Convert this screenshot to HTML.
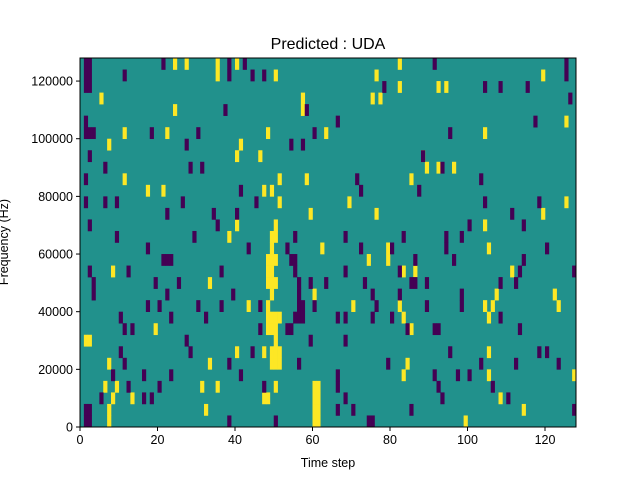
<!DOCTYPE html>
<html><head><meta charset="utf-8"><style>
body{margin:0;background:#fff;}
svg{display:block;font-family:"Liberation Sans","DejaVu Sans",sans-serif;}
</style></head><body>
<svg id="chart" width="640" height="480">
<text x="328" y="49" font-size="16" text-anchor="middle">Predicted : UDA</text>
<text x="328" y="467" font-size="12.5" text-anchor="middle">Time step</text>
<text transform="translate(8,242) rotate(-90)" font-size="12.5" text-anchor="middle">Frequency (Hz)</text>
<g id="cells"></g>
<g id="axes"></g>
</svg>
<script>
const nCols = 128;
const nRows = 32;
const rowHz = 4000;
const xTicks = [0,20,40,60,80,100,120];
const yTicks = [0,20000,40000,60000,80000,100000,120000];
// per frequency row (0 = lowest): time-step indices with value +1 (yellow) and -1 (purple)
const yellowCols = [
 [7,60,61,99],
 [7,32,60,61,114],
 [8,13,47,48,60,61,108],
 [6,9,31,35,50,60,61],
 [83,105,127],
 [7,33,49,50,51,84],
 [40,47,49,50,51,105],
 [1,2,50],
 [19,48,49,50,85],
 [48,49,50,51,83,105],
 [43,48,70,82,104,106,123],
 [49,60,107,122],
 [33,48,49,50],
 [8,48,49,86,83,111],
 [48,49,50,74,79],
 [49,62,79,105],
 [38,49,50],
 [40,50,104],
 [59,76,119],
 [51,69,125],
 [17,21,47,49],
 [11,51,58,85],
 [89,92,96],
 [40,46,88],
 [7,41],
 [11,22,48,63,104],
 [125],
 [24,57],
 [5,57,75,77],
 [82,92,94],
 [35,50,76,119],
 [24,27,35,40,82]
];
const purpleCols = [
 [1,2,38,50,74,75],
 [1,2,66,70,85,127],
 [5,16,18,68,93,110],
 [12,20,47,66,92,106],
 [8,16,23,41,66,91,97,100],
 [11,38,56,79,103,112,123],
 [10,28,44,95,118,120],
 [27,59,68],
 [11,13,46,53,54,84,91,92,113],
 [10,23,32,55,56,57,66,68,75,80,108],
 [17,20,30,36,46,56,57,60,76,89,98],
 [3,22,39,56,75,82,98],
 [3,19,25,56,59,63,73,85,86,89,108,112],
 [2,12,36,55,68,82,113,127],
 [21,22,23,54,55,86,96,114],
 [17,43,53,72,80,94,120],
 [9,29,55,68,83,94,98],
 [2,35,100,114],
 [22,34,40,111],
 [1,6,9,26,45,104,118],
 [41,72,87],
 [1,71,103],
 [6,28,31,93],
 [2,88],
 [27,54,57],
 [1,2,3,18,30,60,95],
 [1,66,117],
 [37,58],
 [126],
 [1,2,78,104,108,115],
 [1,2,11,38,44,47,125],
 [1,2,21,38,42,91,125]
];
const L=80,R=576,T=58,B=427;
const NS="http://www.w3.org/2000/svg";
const xs=v=>L+(v/nCols)*(R-L);
const ys=v=>B-(v/(nRows*rowHz))*(B-T);
function mk(tag,attrs,parent){const e=document.createElementNS(NS,tag);for(const k in attrs)e.setAttribute(k,attrs[k]);parent.appendChild(e);return e;}
const cells=document.getElementById('cells'), axes=document.getElementById('axes');
const bg=mk('rect',{x:L,y:T,width:R-L,height:B-T,fill:'#21918c'},cells);


function drawCells(list,color,name){
 for(let r=0;r<list.length;r++){for(const c of list[r]){
  const y0=ys((r+1)*rowHz),y1=ys(r*rowHz);
  const e=mk('rect',{x:xs(c),y:y0,width:xs(c+1)-xs(c)+0.3,height:y1-y0+0.3,fill:color},cells);
  
  
 }}
}
drawCells(yellowCols,'#fde725','cell-positive');
drawCells(purpleCols,'#440154','cell-negative');
const fr=mk('rect',{x:L,y:T,width:R-L,height:B-T,fill:'none',stroke:'#000','stroke-width':1},axes);


for(const t of xTicks){
 const x=xs(t);
 const l=mk('line',{x1:x,x2:x,y1:B,y2:B+4,stroke:'#000'},axes);
 
 
 const tx=mk('text',{x:x,y:B+17,'font-size':12.5,'text-anchor':'middle'},axes);tx.textContent=t;
 
 
}
for(const t of yTicks){
 const y=ys(t);
 const l=mk('line',{x1:L-4,x2:L,y1:y,y2:y,stroke:'#000'},axes);
 
 
 const tx=mk('text',{x:L-7,y:y+4.5,'font-size':12.5,'text-anchor':'end'},axes);tx.textContent=t;
 
 
}
</script>
</body></html>
